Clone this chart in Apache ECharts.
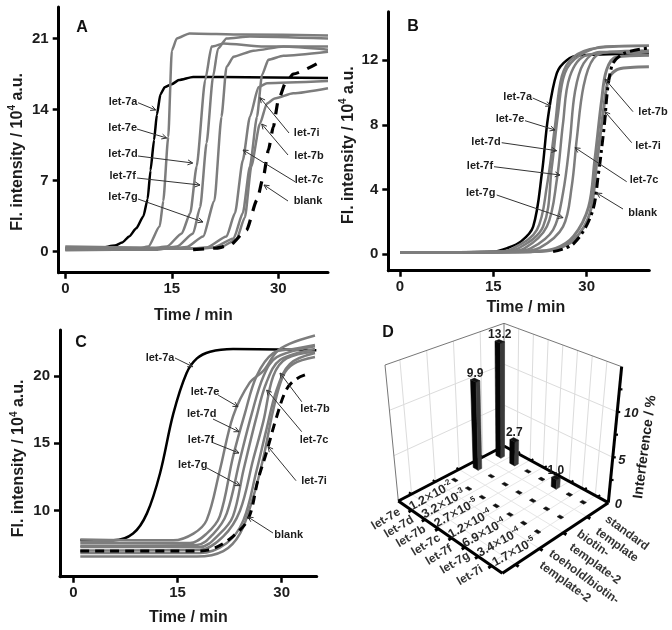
<!DOCTYPE html>
<html><head><meta charset="utf-8">
<style>html,body{margin:0;padding:0;background:#fff}#c{width:672px;height:630px}</style>
<script src="https://cdn.jsdelivr.net/npm/echarts@6/dist/echarts.min.js"></script>
</head><body><div id="c"></div>
<script>
// ---------- Panel A curves: [minutes, intensity]
const A_let7a=[[0,0.3],[5,0.4],[7,0.6],[8,0.9],[9,1.5],[10,2.3],[11,3.5],[11.6,5.2],[12,8],[12.5,11],[12.9,13.5],[13.4,15.5],[14,16.2],[15,16.5],[16,16.9],[18,17.2],[22,17.2],[37,17.1]];
const A_let7e=[[0,0.2],[10,0.25],[11.7,0.5],[13.3,2.5],[13.8,5],[14.5,11.3],[15,19.8],[15.7,21],[17.5,21.5],[25,21.4],[37,21.3]];
const A_let7d=[[0,0.35],[12,0.3],[14.3,0.5],[16.4,1.8],[17.6,3.8],[18.5,8.4],[19.7,16.9],[20.6,20.2],[22.3,20.5],[28,20.2],[37,20.2]];
const A_let7f=[[0,0.15],[13,0.2],[15.7,0.5],[18,1.8],[19,4.4],[19.9,10.7],[20.8,17.2],[21.5,20],[22.7,21],[26,21.2],[37,21]];
const A_let7g=[[0,0.4],[15,0.35],[17.1,0.45],[19.4,1.5],[21,5],[22,13.3],[22.7,18.2],[23.7,19.2],[26.5,19.8],[30.7,20.2],[37,19.9]];
const A_let7c=[[0,0.25],[17,0.3],[19.9,0.4],[22.7,1.5],[23.9,3.8],[25,9],[26,13.3],[27.2,16.2],[28.4,16.6],[37,16.8]];
const A_let7i=[[0,0.3],[18,0.3],[20.8,0.4],[23.7,1.3],[25,3.8],[26,8.4],[27,13.3],[27.7,17.4],[28.6,18.9],[30.7,19.3],[37,19.7]];
const A_let7b=[[0,0.5],[18,0.35],[21.8,0.4],[24.1,1.2],[25.3,3.4],[26.2,8.4],[27.4,12.6],[28.4,14.6],[29.5,15.1],[32.1,15.6],[37,16.1]];
const A_blank=[[18,0.2],[21.3,0.35],[23.2,0.65],[25.5,2.1],[27,5.1],[27.9,7.4],[28.6,10],[29.3,12.3],[30,14.9],[31,16.6],[32.1,17.5],[35.4,18.5]];
// ---------- Panel B curves
const B_let7a=[[0,0.1],[15,0.15],[17.1,0.35],[19.5,0.8],[21.4,1.7],[22.8,5],[23.8,8.5],[25.2,11.2],[26.8,12],[28.9,12.3],[40,12.4]];
const B_let7e=[[0,0.1],[16,0.15],[18.2,0.35],[22,1.5],[23.6,4.2],[24.9,7.9],[26,11],[27.9,12.2],[31.6,12.75],[40,12.9]];
const B_let7d=[[0,0.1],[16,0.15],[19,0.35],[23,1.7],[24.4,5.4],[25.4,8.7],[26.5,11.2],[28.9,12.3],[33,12.85],[40,12.9]];
const B_let7f=[[0,0.1],[17,0.15],[20,0.35],[23.6,1.7],[25.2,4.6],[26.2,8.1],[27.3,11],[30,12.3],[40,12.6]];
const B_let7g=[[0,0.1],[18,0.15],[21,0.35],[24.6,1.5],[26.2,3.8],[27.3,7],[28.1,10],[29.5,11.8],[32.1,12.5],[40,12.5]];
const B_let7c=[[0,0.1],[19,0.15],[22.5,0.4],[26.2,1.7],[27.6,4.2],[28.4,7.1],[29.5,10.4],[31.1,12.1],[33.7,12.5],[40,12.3]];
const B_let7i=[[0,0.1],[21,0.15],[25,0.35],[27.9,1.1],[30.3,2.9],[31.3,5.8],[32.4,9.5],[33.2,11.4],[34.8,12.2],[40,12.3]];
const B_let7b=[[0,0.1],[21,0.15],[25,0.3],[28,0.9],[30.5,2.5],[31.6,5.6],[32.7,8.9],[33.5,10.8],[34.8,11.4],[37,11.55],[40,11.6]];
const B_blank=[[24.6,0.15],[27.9,0.65],[30.8,2.5],[31.9,5],[32.7,7.5],[34,11.6],[35.9,12.4],[39.9,12.75]];
// ---------- Panel C curves
const C_let7a=[[1,7.8],[5.8,7.8],[8.6,8.3],[10.6,9.8],[12.5,12.8],[14.4,17.2],[16.3,20.2],[17.8,21.3],[19.7,21.8],[23,22],[35,21.9]];
const C_let7e=[[1,7.87],[14.4,7.8],[17.3,8.3],[19.2,9.3],[21.1,13],[23,17],[25.4,19.5],[27.4,20.4],[29.3,21.8],[31.2,22.4],[34.8,23]];
const C_let7d=[[1,7.6],[16.8,7.6],[19.2,8.3],[21.1,9.6],[23,14],[24.7,17.2],[26.4,20],[28.8,21.7],[31.7,22],[34.8,22.3]];
const C_let7f=[[1,7.4],[17.8,7.45],[20.2,8.3],[22.1,9.8],[24,13.8],[25.7,17.2],[27.4,20],[29.3,21.4],[34.8,22.2]];
const C_let7g=[[1,7.3],[18.2,7.3],[21.1,8.3],[23,9.6],[24.5,13],[26.4,17],[27.8,19.5],[29.8,21.2],[34.8,22]];
const C_let7c=[[1,7.05],[18.2,7.1],[21.6,8.1],[24,10],[25.9,13.8],[27.4,16.7],[28.8,20],[30.7,21.3],[34.8,21.8]];
const C_let7i=[[1,6.85],[18.2,6.85],[22.1,7.6],[24.5,9.3],[26.4,13],[27.8,16],[29.3,19],[31.2,20.9],[34.8,21.7]];
const C_let7b=[[1,6.6],[17.8,6.6],[21.6,7],[24,8.3],[25.9,11],[27.4,14],[28.8,17.5],[30.2,20],[31.7,20.9],[34.8,21.4]];
const C_blank=[[1,7],[17.8,7],[20.2,7.2],[23,8.1],[25.2,9.4],[26.6,12.3],[27.8,14.3],[29.3,17],[30.7,19],[32.2,19.8],[34.1,20.2]];
// ---------- Panel D
const D_mirna=['let-7e','let-7d','let-7b','let-7c','let-7f','let-7g','let-7i'];
const D_ratioMantissa=['1.2','3.2','2.7','1.2','6.9','3.4','1.7'];
const D_ratioExponent=['-2','-3','-5','-4','-4','-4','-5'];
const D_toehold=[0,0,0,0,0,0,0];
const D_biotin=[9.9,0,0,0,0,0,0];
const D_standard=[13.2,2.7,0,0,1.0,0,0];
const D_zTicks=[0,5,10];
// ---------- Tick labels
const A_xTicks=[0,15,30],A_yTicks=[0,7,14,21];
const B_xTicks=[0,15,30],B_yTicks=[0,4,8,12];
const C_xTicks=[0,15,30],C_yTicks=[10,15,20];

const FONT='"Liberation Sans",Arial,sans-serif', GRAY='#7d7d7d', TXT='#1c1c1c';
function panelSeries(i,list,w,sm,mono){
  return list.map(([name,d,color,dash,lw])=>({type:'line',name,xAxisIndex:i,yAxisIndex:i,data:d,showSymbol:false,symbol:'none',
    smooth:sm,smoothMonotone:mono,silent:true,lineStyle:{color,width:lw||w,type:dash||'solid',cap:'butt'},z:dash?4:(color==='#000'?2:3)}));
}
function mkGrid(x0,y0,x1,y1){return {left:x0,top:y0,width:x1-x0,height:y1-y0,containLabel:false}}
function xAx(i,min,max,ticks,gap,pad){return {gridIndex:i,type:'value',min,max,name:'Time / min',nameLocation:'middle',nameGap:gap,
  nameTextStyle:{fontFamily:FONT,fontWeight:'bold',fontSize:16,color:TXT,padding:pad||0},
  axisLine:{show:true,onZero:false,lineStyle:{color:'#000',width:3}},axisTick:{show:true,customValues:ticks,length:6,lineStyle:{color:'#000',width:2.5}},
  axisLabel:{customValues:ticks,margin:9,fontFamily:FONT,fontWeight:'bold',fontSize:15,color:TXT},splitLine:{show:false}}}
function yAx(i,min,max,ticks,gap,pad){return {gridIndex:i,type:'value',min,max,name:'{a|Fl. intensity / 10}{s|4}{a| a.u.}',nameLocation:'middle',nameGap:gap,
  nameTextStyle:{padding:pad||0,rich:{a:{fontFamily:FONT,fontWeight:'bold',fontSize:16,color:TXT,lineHeight:20},s:{fontFamily:FONT,fontWeight:'bold',fontSize:10,color:TXT,verticalAlign:'top',lineHeight:14}}},
  axisLine:{show:true,onZero:false,lineStyle:{color:'#000',width:3}},axisTick:{show:true,customValues:ticks,length:6,lineStyle:{color:'#000',width:2.5}},
  axisLabel:{customValues:ticks,margin:10,fontFamily:FONT,fontWeight:'bold',fontSize:15,color:TXT},splitLine:{show:false}}}

// Annotations: text, centre of text, arrow tail and tip (page pixels)
const notes=[
 ['let-7a',123,102,138,102.7,155.7,110],['let-7e',122.7,128,137,129,166.7,138],['let-7d',123,154,138,156,192.7,163],['let-7f',122.7,175.7,137,178,200,185],['let-7g',123,197,138,199,203,222],
 ['let-7i',306.7,132.7,289,133,260,97.7],['let-7b',309,155.7,288,155,261.7,124],['let-7c',309,180,295,181.7,243,150],['blank',308,201,288,201,264,185],
 ['let-7a',517.7,96.7,532.7,98,550.7,106],['let-7e',510,119,525,120.7,555,130],['let-7d',486,141.7,501.7,142.7,556.7,150.7],['let-7f',480,165.7,494,166.7,560,175],['let-7g',480.7,192.7,496.7,195,563,217.7],
 ['let-7b',653,111.7,633,111.7,605,79],['let-7i',648,145.7,631.7,142.7,605,111.7],['let-7c',644,180,626.7,181.7,575,147.7],['blank',642.7,212.7,623,209,596.7,193],
 ['let-7a',160,357.7,175,358,192.7,366.7],['let-7e',205,391.7,218,395,238,406.7],['let-7d',201.7,414,213,419,239,431.7],['let-7f',201,440,213,442.7,239,453],['let-7g',192.7,465,207,468,240,485.7],
 ['let-7b',315,409,301.7,401.7,280,373],['let-7c',314,440,301.7,431.7,266.7,390],['let-7i',314,480.7,296,480.7,268,446.7],['blank',288.7,535,273,533,248,517]
];
const letters=[['A',82,28],['B',413,27],['C',81,343],['D',388,333]];

// Panel D oblique/perspective mapping, reference frame of the panel
const P={L:[175,543],F:[487,760],R:[805,548],B:[492,378],TL:[135,135],TF:[487,320],TR:[845,140],TB:[492,10]};
const Z_MAX=15, BAR_GAIN=1.04;
function bil(a,b,c,d,u,v){return [0,1].map(k=>a[k]*(1-u)*(1-v)+b[k]*u*(1-v)+c[k]*(1-u)*v+d[k]*u*v)}
function proj(u,v,z,g){ g=g||1;
  const f=bil(P.L,P.F,P.B,P.R,u,v), t=bil(P.TL,P.TF,P.TB,P.TR,u,v), w=z/Z_MAX*g;
  return [340+(f[0]+(t[0]-f[0])*w)/3, 320+(f[1]+(t[1]-f[1])*w)/3];
}
const catU=i=>0.07+0.1325*i, rowV=r=>0.25+0.215*(r+1);
function px(api,p){return api.coord(p)}
function seg(api,a,b,color,w){const A=px(api,a),B=px(api,b);return {type:'line',shape:{x1:A[0],y1:A[1],x2:B[0],y2:B[1]},style:{stroke:color,lineWidth:w,lineCap:'butt'},silent:true}}
function txt(api,x,y,str,size,deg,opts){const c=px(api,[x,y]);return {type:'text',x:c[0],y:c[1],rotation:(deg||0)*Math.PI/180,silent:true,
  style:Object.assign({text:str,fill:TXT,font:(opts&&opts.weight||'bold')+' '+size+'px '+FONT,align:'center',verticalAlign:'middle'},opts&&opts.style||{})}}

function renderFrame(params,api){
  const ch=[], faint='#dcdcdc', edge='#777';
  const uT=[.125,.35,.575,.8], zs=[5,10];
  [.125,.25,.375,.5,.625,.75,.875].forEach(u=>{ch.push(seg(api,proj(u,0,0),proj(u,1,0),'#e6e6e6',1));ch.push(seg(api,proj(u,1,0),proj(u,1,15),faint,1));});
  uT.forEach(v=>{ch.push(seg(api,proj(0,v,0),proj(1,v,0),'#e6e6e6',1));ch.push(seg(api,proj(0,v,0),proj(0,v,15),faint,1));});
  zs.forEach(z=>{ch.push(seg(api,proj(0,0,z),proj(0,1,z),faint,1));ch.push(seg(api,proj(0,1,z),proj(1,1,z),faint,1));});
  ch.push(seg(api,proj(0,0,0),proj(0,0,15),edge,1),seg(api,proj(0,0,15),proj(0,1,15),edge,1),seg(api,proj(0,1,0),proj(0,1,15),edge,1),seg(api,proj(0,1,15),proj(1,1,15),edge,1));
  ch.push(seg(api,proj(0,0,0),proj(1,0,0),'#000',3),seg(api,proj(1,0,0),proj(1,1,0),'#000',3),seg(api,proj(0,0,0),proj(0,1,0),'#000',3),seg(api,proj(0,1,0),proj(1,1,0),'#000',3));
  ch.push(seg(api,proj(1,1,0),proj(1,1,15),'#000',3));
  D_mirna.forEach((_,i)=>{const u=.128*(i+1);ch.push(seg(api,proj(u,0,0),proj(u,-.03,0),'#000',3),seg(api,proj(u,1,0),proj(u,1.025,0),'#000',2));});
  uT.forEach(v=>{ch.push(seg(api,proj(1,v,0),proj(1.03,v,0),'#000',3),seg(api,proj(-.025,v,0),proj(0,v,0),'#000',2));});
  [2.5,5,7.5,10,12.5].forEach(z=>{const a=proj(1,1,z),b=proj(1,1,z);b[0]+=3;ch.push(seg(api,a,b,'#000',2.2));});
  D_zTicks.forEach(z=>{const a=proj(1,1,z);ch.push(txt(api,a[0]+(z===0?10:z===5?9:14),a[1]+(z===0?2:z===5?3:1),String(z),13,0,{style:{font:'italic bold 13px '+FONT}}));});
  ch.push(txt(api,645,447,'Interference / %',14,82.5));
  const catPos=[[386,519],[399,527],[411,536.5],[426,545],[439,555],[455,563],[470,575.5]];
  D_mirna.forEach((s,i)=>ch.push(txt(api,catPos[i][0],catPos[i][1],s,12,31,{style:{fill:'#333'}})));
  const rPos=[[431,496],[443.5,504],[456,513],[470,524],[484,533],[499,542.5],[514,552]];
  D_ratioMantissa.forEach((m,i)=>{const c=px(api,rPos[i]);ch.push({type:'text',x:c[0],y:c[1],rotation:29*Math.PI/180,silent:true,style:{
     text:'{n|'+m+'}{x|×}{n|10}{s|'+D_ratioExponent[i]+'}',align:'center',verticalAlign:'middle',
     rich:{n:{fontFamily:FONT,fontWeight:'bold',fontSize:12.5,fill:'#2a2a2a'},x:{fontFamily:FONT,fontSize:15,fill:'#333'},s:{fontFamily:FONT,fontWeight:'bold',fontSize:8,fill:'#2a2a2a',verticalAlign:'top'}}}});});
  [['standard',627,533],['template',617,545],['biotin-',593,543.5],['template-2',595,564],['toehold/biotin-',584,577],['template-2',565,582]].forEach(t=>
     ch.push(txt(api,t[1],t[2],t[0],12,-36,{style:{fill:'#333'}})));
  return {type:'group',children:ch};
}
function renderBar(params,api){
  const i=api.value(0), r=api.value(1), val=api.value(2), u=catU(i), v=rowV(r), du=val>0?.024:.019, dv=val>0?.017:.013;
  const poly=(a,fill)=>({type:'polygon',shape:{points:a.map(p=>px(api,p))},style:{fill,stroke:fill,lineWidth:.5},silent:true});
  const f=(a,b,z)=>proj(a,b,z,BAR_GAIN), ch=[];
  if(val>0){
    ch.push(poly([f(u-du,v-dv,0),f(u+du,v-dv,0),f(u+du,v-dv,val),f(u-du,v-dv,val)],'#050505'));
    ch.push(poly([f(u+du,v-dv,0),f(u+du,v+dv,0),f(u+du,v+dv,val),f(u+du,v-dv,val)],'#3a3a3a'));
  }
  ch.push(poly([f(u-du,v-dv,val),f(u+du,v-dv,val),f(u+du,v+dv,val),f(u-du,v+dv,val)],'#111'));
  if(val>0){const t=f(u,v,val);ch.push(txt(api,t[0],t[1]-7,val.toFixed(1),12,0));}
  return {type:'group',children:ch};
}
function renderNotes(params,api){
  const ch=[];
  notes.forEach(n=>{
    ch.push(txt(api,n[1],n[2],n[0],11));
    const dx=n[5]-n[3],dy=n[6]-n[4],len=Math.hypot(dx,dy),ux=dx/len,uy=dy/len,s=5;
    ch.push(seg(api,[n[3],n[4]],[n[5],n[6]],'#333',1));
    ch.push(seg(api,[n[5],n[6]],[n[5]-ux*s-uy*2.5,n[6]-uy*s+ux*2.5],'#333',1));
    ch.push(seg(api,[n[5],n[6]],[n[5]-ux*s+uy*2.5,n[6]-uy*s-ux*2.5],'#333',1));
  });
  letters.forEach(l=>ch.push(txt(api,l[1],l[2],l[0],16,0,{style:{fill:'#111'}})));
  return {type:'group',children:ch};
}
const barData=[];
[[D_standard,2],[D_biotin,1],[D_toehold,0]].forEach(([arr,r])=>arr.forEach((val,i)=>barData.push([i,r,val])));

const seriesA=panelSeries(0,[['let-7a',A_let7a,'#000'],['let-7e',A_let7e,GRAY],['let-7d',A_let7d,GRAY],['let-7f',A_let7f,GRAY],['let-7g',A_let7g,GRAY],['let-7c',A_let7c,GRAY],['let-7i',A_let7i,GRAY],['let-7b',A_let7b,GRAY],['blank',A_blank,'#000',[11,9],3.2]],2.5,0.2,'x');
const seriesB=panelSeries(1,[['let-7a',B_let7a,'#000'],['let-7e',B_let7e,GRAY],['let-7d',B_let7d,GRAY],['let-7f',B_let7f,GRAY],['let-7g',B_let7g,GRAY],['let-7c',B_let7c,GRAY],['let-7i',B_let7i,GRAY,null,3],['let-7b',B_let7b,GRAY,null,3],['blank',B_blank,'#000',[10,4,3,4],3]],2.5,0.35,null);
const seriesC=panelSeries(2,[['let-7a',C_let7a,'#000'],['let-7e',C_let7e,GRAY],['let-7d',C_let7d,GRAY],['let-7f',C_let7f,GRAY],['let-7g',C_let7g,GRAY],['let-7c',C_let7c,GRAY],['let-7i',C_let7i,GRAY],['let-7b',C_let7b,GRAY],['blank',C_blank,'#000',[9,6],3]],2.5,0.35,null);
const ov={xAxisIndex:3,yAxisIndex:3,type:'custom',silent:true,clip:false,coordinateSystem:'cartesian2d',encode:{x:0,y:1}};

const chart=echarts.init(document.getElementById('c'),null,{renderer:'canvas'});
chart.setOption({animation:false,backgroundColor:'#fff',textStyle:{fontFamily:FONT},
 grid:[mkGrid(58.7,7,328,272.7),mkGrid(388.3,11.7,649.3,270.7),mkGrid(60,330,316.7,576.7),mkGrid(0,0,672,630)],
 xAxis:[xAx(0,-0.93,37,A_xTicks,35),xAx(1,-1.88,40.06,B_xTicks,29,[0,0,0,14]),xAx(2,-1.92,35.05,C_xTicks,33),
   {gridIndex:3,type:'value',min:0,max:672,show:false}],
 yAxis:[yAx(0,-2.07,24.1,A_yTicks,31,[0,24,0,0]),yAx(1,-1.03,15,B_yTicks,30,[0,8,0,0]),yAx(2,5.1,23.41,C_yTicks,31,[0,10,0,0]),
   {gridIndex:3,type:'value',min:0,max:630,inverse:true,show:false}],
 series:[
  Object.assign({},ov,{name:'frameD',renderItem:renderFrame,data:[[0,0]],z:1}),
  ...seriesA,...seriesB,...seriesC,
  Object.assign({},ov,{name:'barsD',renderItem:renderBar,data:barData,encode:{x:0,y:1},z:5}),
  Object.assign({},ov,{name:'notes',renderItem:renderNotes,data:[[0,0]],z:6})
 ]});
</script></body></html>
